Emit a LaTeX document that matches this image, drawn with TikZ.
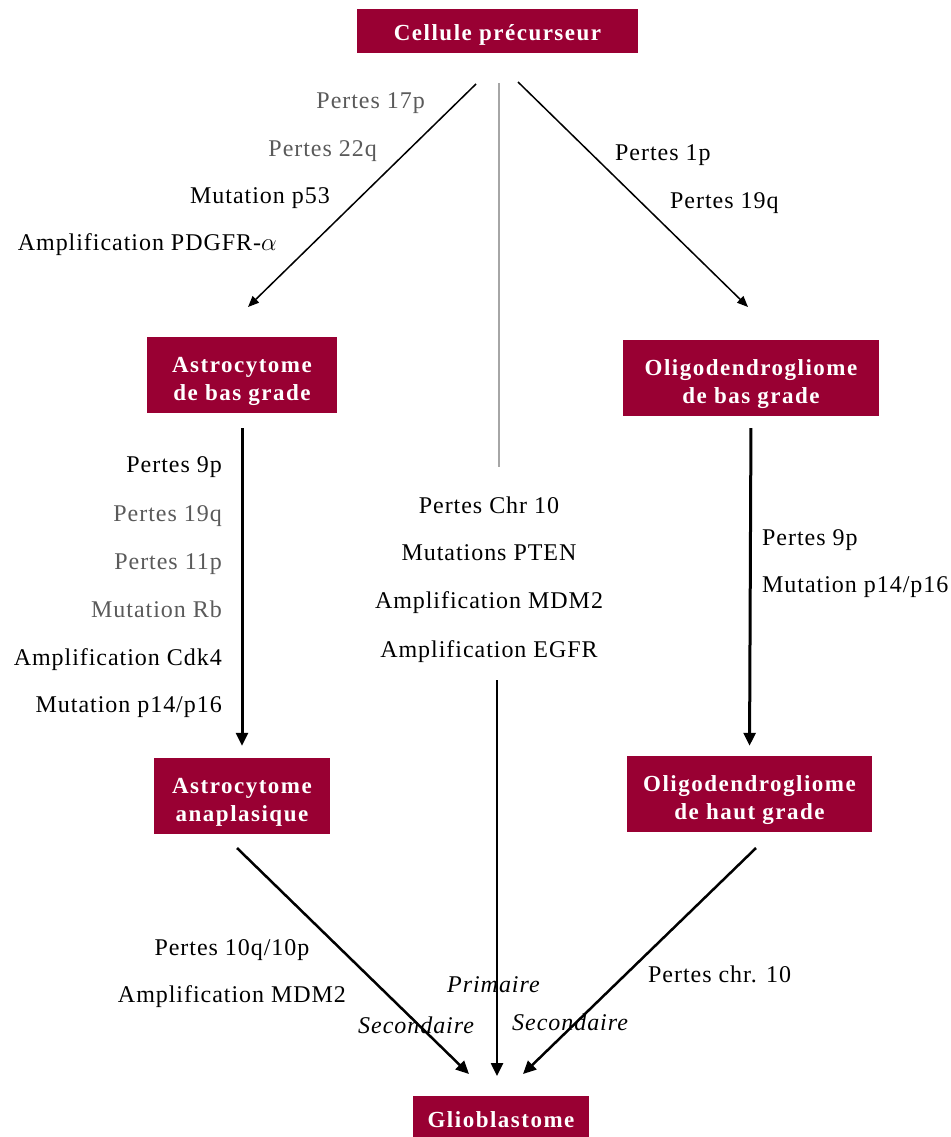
\documentclass[tikz,border=0pt]{standalone}
\usepackage{fontspec}
\setmainfont[LetterSpace=4, BoldFeatures={LetterSpace=6.5}]{Liberation Serif}
\usetikzlibrary{arrows.meta,positioning,calc}
\definecolor{stagefill}{HTML}{990033}
\definecolor{softink}{HTML}{5A5A5A}
\definecolor{guide}{HTML}{A6A6A6}

\begin{document}
\begin{tikzpicture}[x=1pt,y=-1pt,
  stage/.style={fill=stagefill, text=white, font=\fontsize{23}{28}\selectfont\bfseries,
    align=center, inner sep=0pt, text height=50pt, text depth=0pt, minimum height=76pt},
  lbl/.style={font=\fontsize{24}{28}\selectfont, inner sep=0pt},
  slant/.style={lbl, font=\fontsize{24}{28}\selectfont\itshape},
  thinlink/.style={line width=1.5pt, -{Triangle[length=11pt,width=9pt]}},
  boldlink/.style={line width=3pt, -{Triangle[length=13pt,width=12pt]}},
  midlink/.style={line width=2.5pt, -{Triangle[length=13pt,width=12pt]}}]
\useasboundingbox (0,0) rectangle (950,1137);

% ---------- stages
\node[stage, minimum width=281pt, minimum height=44pt, text height=24pt, text depth=5pt]
  (cell) at (497.5,31) {Cellule précurseur};
\node[stage, minimum width=190pt] (astrolow) at (242,375) {Astrocytome\\de bas grade};
\node[stage, minimum width=256pt] (oligolow) at (751,378) {Oligodendrogliome\\de bas grade};
\node[stage, minimum width=176pt] (astroana) at (242,796) {Astrocytome\\anaplasique};
\node[stage, minimum width=245pt] (oligohigh) at (749.5,794) {Oligodendrogliome\\de haut grade};
\node[stage, anchor=north, minimum width=176pt, minimum height=0pt, text height=31pt, text depth=45pt]
  (glio) at (501,1096) {Glioblastome};

% ---------- free ends of the connectors
\coordinate (cellL) at (476,84);
\coordinate (cellR) at (518,82);
\coordinate (cellM) at (499,83);
\coordinate (astrolowin) at (248,307);
\coordinate (oligolowin) at (748,307);
\coordinate (midstop) at (499,467);
\coordinate (midgo) at (497,680);
\coordinate (astroanaout) at (237,848);
\coordinate (oligohighout) at (756,848);
\coordinate (glioL) at (469,1074);
\coordinate (glioM) at (497,1076);
\coordinate (glioR) at (523,1074);

% ---------- connectors
\draw[thinlink] (cellL) -- (astrolowin);
\draw[thinlink] (cellR) -- (oligolowin);
\draw[guide, line width=1.5pt] (cellM) -- (midstop);
\draw[boldlink, shorten <=15pt, shorten >=12pt] (astrolow.south) -- (astroana.north);
\draw[boldlink, shorten <=12pt, shorten >=10pt] (oligolow.south) -- (oligohigh.north);
\draw[midlink] (midgo) -- (glioM);
\draw[midlink] (astroanaout) -- (glioL);
\draw[midlink] (oligohighout) -- (glioR);

% ---------- towards the astrocytoma
\node[lbl, anchor=base east, softink] (l17p) at (425,109) {Pertes 17p};
\node[lbl, anchor=base east, softink] (l22q) at (377,157) {Pertes 22q};
\node[lbl, anchor=base east] (lp53) at (330,203) {Mutation p53};
\node[lbl, anchor=base east] (lpdgfr) at (277,250) {Amplification PDGFR-$\alpha$};

% ---------- towards the oligodendroglioma
\node[lbl, anchor=base west] (l1p) at (615,160) {Pertes 1p};
\node[lbl, anchor=base west] (l19q) at (670,208) {Pertes 19q};

% ---------- low grade to anaplastic
\foreach \t/\y/\c in {Pertes 9p/472/black, Pertes 19q/521/softink, Pertes 11p/569/softink,
    Mutation Rb/617/softink, Amplification Cdk4/665/black, {Mutation p14/p16}/712/black}
  \node[lbl, anchor=base east, \c] at (222,\y) {\t};

% ---------- primary route
\foreach \t/\y in {Pertes Chr 10/513, Mutations PTEN/560, Amplification MDM2/608, Amplification EGFR/657}
  \node[lbl, anchor=base] at (489,\y) {\t};

% ---------- oligodendroglioma, high grade
\node[lbl, anchor=base west] (l9p) at (762,545) {Pertes 9p};
\node[lbl, anchor=base west] (lp14) at (762,592) {Mutation p14/p16};

% ---------- towards the glioblastoma
\node[lbl, anchor=base] (l10q) at (232,955) {Pertes 10q/10p};
\node[lbl, anchor=base] (lmdm2) at (232,1002) {Amplification MDM2};
\node[lbl, anchor=base west] (lchr10) at (648,982) {Pertes chr. 10};
\node[slant, anchor=base west] (lprim) at (447,992) {Primaire};
\node[slant, anchor=base west] (lsecL) at (358,1033) {Secondaire};
\node[slant, anchor=base west] (lsecR) at (512,1030) {Secondaire};
\end{tikzpicture}
\end{document}
